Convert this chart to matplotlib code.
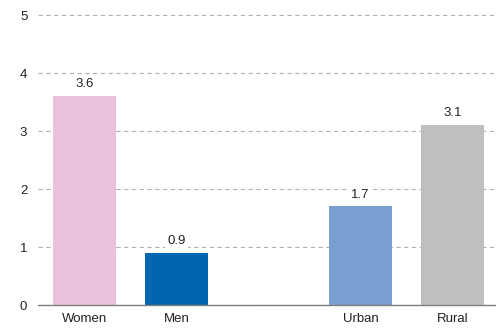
import matplotlib
matplotlib.use("Agg")
import matplotlib.pyplot as plt

categories = ["Women", "Men", "Urban", "Rural"]
values = [3.6, 0.9, 1.7, 3.1]
positions = [0, 1, 3, 4]
colors = ["#ebc0dc", "#0066b2", "#789fd0", "#bfbfbf"]

plt.rcParams['font.family'] = ['Liberation Sans', 'DejaVu Sans']

fig = plt.figure(figsize=(4.96, 3.30), dpi=100)
ax = fig.add_axes([38 / 496, 25 / 330, 458 / 496, 290 / 330])

ax.bar(positions, values, width=0.685, color=colors, zorder=2)
for x, v in zip(positions, values):
    ax.text(x, v + 0.1, f"{v:.1f}", ha="center", va="bottom", fontsize=9.5,
            color="#222222", zorder=3,
            bbox=dict(facecolor="white", edgecolor="none", pad=1.5))

ax.set_xlim(-0.505, 4.47)
ax.set_ylim(0, 5)
ax.set_yticks(range(6))
ax.set_xticks(positions)
ax.set_xticklabels(categories)
ax.yaxis.grid(True, linestyle=(0, (4, 3)), color="#b0b0b0", linewidth=0.8, zorder=0)
ax.tick_params(axis="both", length=0, colors="#222222", labelsize=9.5)
ax.tick_params(axis="y", pad=13)
ax.tick_params(axis="x", pad=6)
for side in ["top", "right", "left"]:
    ax.spines[side].set_visible(False)
ax.spines["bottom"].set_color("#808080")
ax.spines["bottom"].set_linewidth(1)
for lbl in ax.get_yticklabels():
    lbl.set_horizontalalignment("left")

fig.savefig("out.png", dpi=100)
